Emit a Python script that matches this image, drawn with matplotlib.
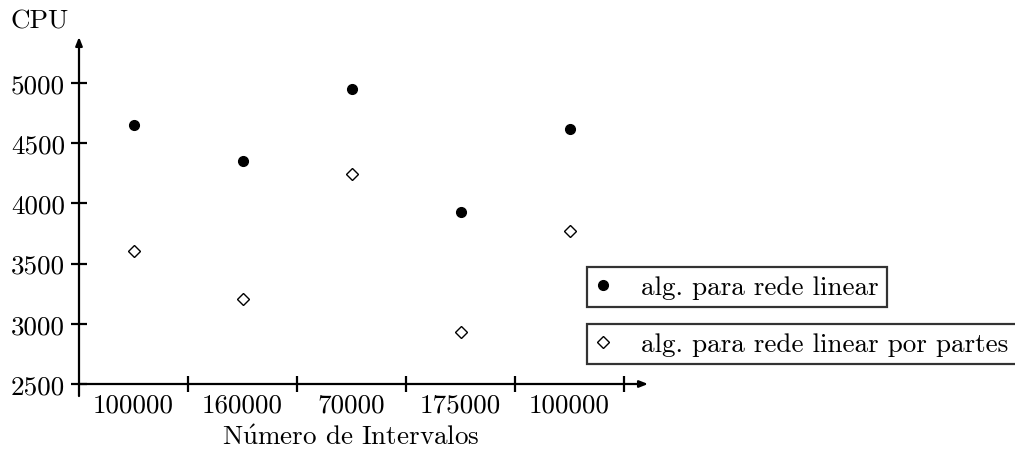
"""
CPU time per test case, two network algorithms (LaTeX-picture look).
"""
import matplotlib
matplotlib.use("Agg")
import matplotlib.pyplot as plt

plt.rcParams["font.family"] = ["cmr10", "DejaVu Serif"]
plt.rcParams["mathtext.fontset"] = "cm"
plt.rcParams["axes.formatter.use_mathtext"] = True

categories = ["100000", "160000", "70000", "175000", "100000"]
cpu_linear = [4650, 4350, 4950, 3930, 4620]
cpu_piecewise = [3605, 3210, 4245, 2935, 3770]
y_ticks = [2500, 3000, 3500, 4000, 4500, 5000]
label_linear = "alg. para rede linear"
label_piecewise = "alg. para rede linear por partes"

FS = 19.5
W, H = 1015, 452
fig = plt.figure(figsize=(W / 100, H / 100), dpi=100)
ax = fig.add_axes([79 / W, 67 / H, (648 - 79) / W, (414 - 67) / H])

n = len(categories)
xpos = [i + 0.5 for i in range(n)]
xmax = n + 0.22
ymin, ymax = 2500, 5382
ax.set_xlim(0, xmax)
ax.set_ylim(ymin, ymax)

for s in ax.spines.values():
    s.set_visible(False)

# axes with arrow heads
arrow = dict(arrowstyle="-|>,head_length=0.5,head_width=0.2", color="black",
             lw=1.6, shrinkA=0, shrinkB=0)
ax.annotate("", xy=(xmax, ymin), xytext=(0, ymin), arrowprops=arrow,
            annotation_clip=False)
ax.annotate("", xy=(0, ymax), xytext=(0, ymin - 100), arrowprops=arrow,
            annotation_clip=False)

p1, = ax.plot(xpos, cpu_linear, linestyle="none", marker="o", markersize=7,
              color="black", clip_on=False)
p2, = ax.plot(xpos, cpu_piecewise, linestyle="none", marker="D", markersize=6.6,
              markerfacecolor="white", markeredgecolor="black",
              markeredgewidth=1.0, clip_on=False)

ax.set_yticks(y_ticks)
ax.set_yticklabels([str(v) for v in y_ticks])
ax.tick_params(axis="y", direction="inout", length=12, width=1.6,
               labelsize=FS, pad=4)

ax.set_xticks(range(1, n + 1))
ax.set_xticklabels([])
ax.set_xticks(xpos, minor=True)
ax.set_xticklabels(categories, minor=True)
ax.tick_params(axis="x", which="major", direction="inout", length=12, width=1.6)
ax.tick_params(axis="x", which="minor", length=0, labelsize=FS, pad=6)

fig.text(10 / W, 1 - 22 / H, "CPU", fontsize=FS, va="center", ha="left")
fig.text(351 / W, 1 - 438 / H, "N$\\acute{\\mathrm{u}}$mero de Intervalos",
         fontsize=FS, va="center", ha="center")

leg_kw = dict(loc="upper left", fontsize=FS, frameon=True, fancybox=False,
              borderaxespad=0, handlelength=0.6, handletextpad=1.1,
              borderpad=0.3, bbox_transform=fig.transFigure)
leg1 = fig.legend([p1], [label_linear], bbox_to_anchor=(587 / W, 1 - 268 / H),
                  **leg_kw)
leg2 = fig.legend([p2], [label_piecewise],
                  bbox_to_anchor=(587 / W, 1 - 325 / H), **leg_kw)
for lg in (leg1, leg2):
    lg.get_frame().set_edgecolor("black")
    lg.get_frame().set_linewidth(1.6)

fig.savefig("out.png", dpi=100)
